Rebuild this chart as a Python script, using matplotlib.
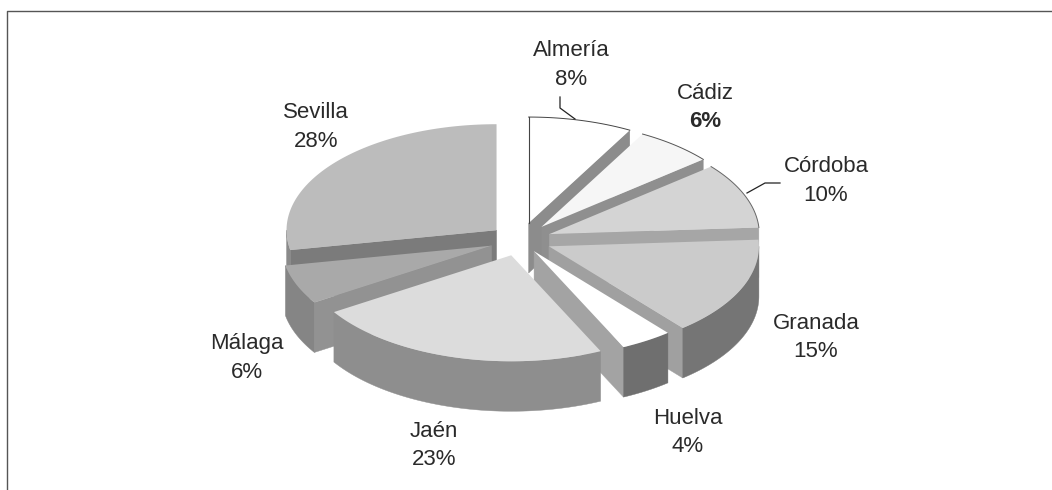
import matplotlib

matplotlib.use("Agg")
import matplotlib.pyplot as plt
import numpy as np

# pie data, clockwise from 12 o'clock
provinces = ["Almería", "Cádiz", "Córdoba", "Granada", "Huelva", "Jaén", "Málaga", "Sevilla"]
shares = [8, 6, 10, 15, 4, 23, 6, 28]

# styling per slice
explode = [0.165, 0.16, 0.15, 0.15, 0.125, 0.15, 0.145, 0.145]
top_colors = ["#ffffff", "#f6f6f6", "#d4d4d4", "#cbcbcb", "#ffffff", "#dcdcdc", "#a9a9a9", "#bcbcbc"]
side_colors = ["#8a8a8a", "#8a8a8a", "#8a8a8a", "#757575", "#6f6f6f", "#8e8e8e", "#858585", "#8a8a8a"]
cut_colors = ["#8c8c8c", "#8f8f8f", "#a6a6a6", "#a0a0a0", "#a3a3a3", "#8e8e8e", "#929292", "#7b7b7b"]
outlined = ["#444444", "#555555", "#666666", None, None, None, None, None]

# label centres in pixels
label_xy = [(571, 51), (705, 93), (826, 167), (816, 323), (688, 418), (434, 431), (247, 344), (316, 113)]
W, H = 1052, 490
CX, CY = 520, 240  # pie centre, px
RX, RY = 210, 106  # one pie radius, px
DEPTH = 50 / RY

plt.rcParams["font.family"] = ["Liberation Sans", "DejaVu Sans"]

fig = plt.figure(figsize=(W / 100, H / 100), dpi=100)
ax = fig.add_axes([0, 0, 1, 1])
ax.set_xlim(-CX / RX, (W - CX) / RX)
ax.set_ylim((CY - H) / RY, CY / RY)
ax.axis("off")


def rim(a0, a1, n=80):
    a = np.radians(np.linspace(a0, a1, n))
    return np.sin(a), np.cos(a)


edges = np.concatenate([[0], np.cumsum(shares)]) / np.sum(shares) * 360
mids = (edges[:-1] + edges[1:]) / 2

# back slices first
for i in sorted(range(len(shares)), key=lambda k: -np.cos(np.radians(mids[k]))):
    a0, a1 = edges[i], edges[i + 1]
    ox = explode[i] * np.sin(np.radians(mids[i]))
    oy = explode[i] * np.cos(np.radians(mids[i]))

    # cut faces that turn towards the viewer
    for a, visible in ((a0, np.sin(np.radians(a0)) < -0.01), (a1, np.sin(np.radians(a1)) > 0.01)):
        if visible:
            ex, ey = np.sin(np.radians(a)), np.cos(np.radians(a))
            ax.fill(
                [ox, ox + ex, ox + ex, ox],
                [oy, oy + ey, oy + ey - DEPTH, oy - DEPTH],
                color=cut_colors[i],
                lw=0.3,
            )

    # outer wall, only the front half of the rim
    lo, hi = max(a0, 90), min(a1, 270)
    if lo < hi:
        sx, sy = rim(lo, hi)
        ax.fill(
            np.concatenate([ox + sx, (ox + sx)[::-1]]),
            np.concatenate([oy + sy, (oy + sy)[::-1] - DEPTH]),
            color=side_colors[i],
            lw=0.3,
        )

    # top face
    tx, ty = rim(a0, a1)
    ax.fill(
        np.concatenate([[ox], ox + tx]),
        np.concatenate([[oy], oy + ty]),
        color=top_colors[i],
        lw=0,
    )
    if outlined[i]:
        ax.plot(ox + tx, oy + ty, color=outlined[i], lw=0.7)
        if i == 0:
            ax.plot([ox, ox], [oy, oy + 1], color=outlined[i], lw=0.8)

# frame, only top and left were printed
fig.add_artist(plt.Line2D([7 / W, 7 / W, 1], [0, 1 - 11.5 / H, 1 - 11.5 / H], color="#555555", lw=1.0))

# leader lines
for xs, ys in (([560, 560, 575], [97, 108, 119]), ([780, 765, 747], [183, 183, 193])):
    fig.add_artist(plt.Line2D(np.array(xs) / W, 1 - np.array(ys) / H, color="#222222", lw=0.9))

for i, (x, y) in enumerate(label_xy):
    fig.text(x / W, 1 - y / H, provinces[i], ha="center", va="center", fontsize=16, color="#2a2a2a")
    fig.text(
        x / W,
        1 - (y + 28.5) / H,
        f"{shares[i]}%",
        ha="center",
        va="center",
        fontsize=16,
        color="#2a2a2a",
        fontweight="bold" if provinces[i] == "Cádiz" else "normal",
    )

fig.savefig("out.png", dpi=100)
